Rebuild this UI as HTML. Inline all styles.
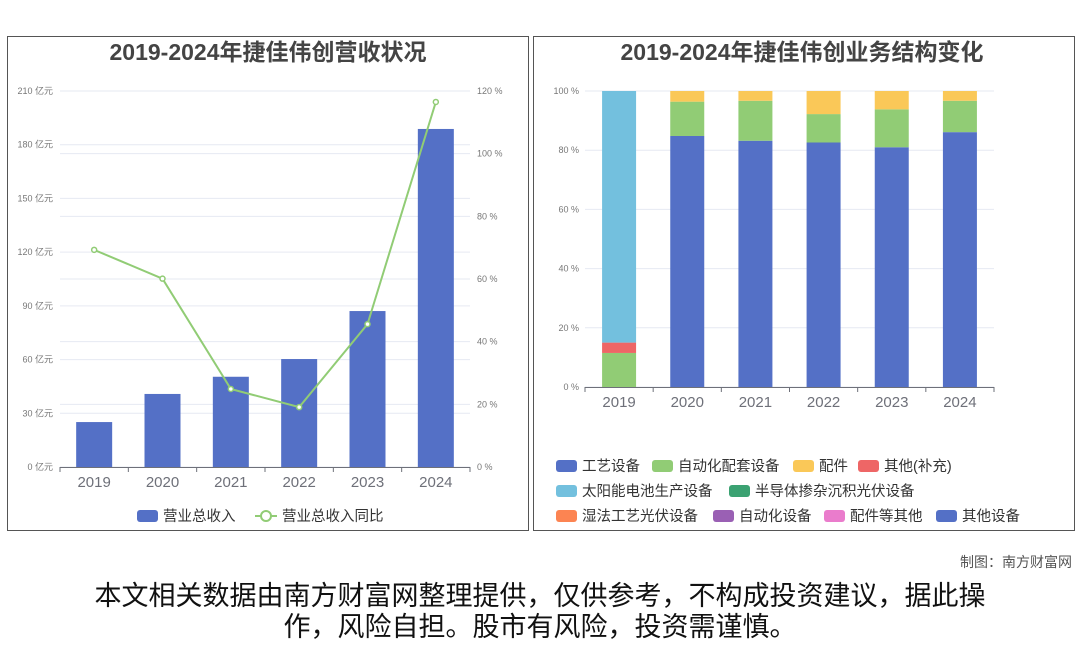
<!DOCTYPE html>
<html><head><meta charset="utf-8">
<style>
body{margin:0;width:1080px;height:646px;background:#fff;overflow:hidden;font-family:"Liberation Sans","Noto Sans CJK SC",sans-serif;}
svg text{font-family:"Liberation Sans","Noto Sans CJK SC",sans-serif;}
.foot{position:absolute;left:0;width:1080px;text-align:center;font-size:27px;line-height:31px;color:#111;font-family:"Liberation Sans","Noto Sans CJK SC",sans-serif;}
</style></head><body>
<svg id="chart" width="1080" height="646" style="position:absolute;left:0;top:0">
<rect x="7.5" y="36.5" width="521" height="494" fill="none" stroke="#555" stroke-width="1"/>
<rect x="533.5" y="36.5" width="541" height="494" fill="none" stroke="#555" stroke-width="1"/>
<text x="268" y="60" text-anchor="middle" font-size="23" font-weight="bold" fill="#444">2019-2024年捷佳伟创营收状况</text>
<text x="802" y="60" text-anchor="middle" font-size="23" font-weight="bold" fill="#444">2019-2024年捷佳伟创业务结构变化</text>
<g id="left"></g><g id="right"></g>
<text x="1072" y="567" text-anchor="end" font-size="14" fill="#555">制图：南方财富网</text>
</svg>
<div class="foot" style="top:581px">本文相关数据由南方财富网整理提供，仅供参考，不构成投资建议，据此操</div>
<div class="foot" style="top:612px">作，风险自担。股市有风险，投资需谨慎。</div>
<script>
const years=['2019','2020','2021','2022','2023','2024'];
const revenue=[25.1,40.8,50.4,60.3,87.1,188.8];
const revenueYoY=[69.3,60.1,24.9,19.1,45.6,116.5];
const leftTicks=[0,30,60,90,120,150,180,210];
const rightTicks=[0,20,40,60,80,100,120];
const segCraft=[0,84.8,83.2,82.6,81.0,86.1];
const segAuto=[11.5,11.6,13.5,9.6,12.8,10.6];
const segParts=[0,3.6,3.3,7.8,6.2,3.3];
const segOther=[3.5,0,0,0,0,0];
const segSolar=[85,0,0,0,0,0];
const pctTicks=[0,20,40,60,80,100];
const NS='http://www.w3.org/2000/svg';
function mk(p,t,a){const e=document.createElementNS(NS,t);for(const k in a)e.setAttribute(k,a[k]);p.appendChild(e);return e;}
// left chart
const L=document.getElementById('left');
const lx0=60,lx1=470,ly0=467,ly1=91;
const ly=v=>ly0-(v/210)*(ly0-ly1);
const ry=v=>ly0-(v/120)*(ly0-ly1);
const lbw=(lx1-lx0)/years.length;
const lcx=i=>lx0+lbw*(i+0.5);
leftTicks.forEach(t=>{
 const g=mk(L,'line',{x1:lx0,x2:lx1,y1:ly(t),y2:ly(t),stroke:'#e6e9f2'});
 
 const tx=mk(L,'text',{x:53,y:ly(t)+3,'text-anchor':'end','font-size':9,fill:'#777'});tx.textContent=t+' 亿元';
 
});
rightTicks.forEach(t=>{
 const g=mk(L,'line',{x1:lx0,x2:lx1,y1:ry(t),y2:ry(t),stroke:'#e6e9f2'});
 
 const tx=mk(L,'text',{x:477,y:ry(t)+3,'font-size':9,fill:'#777'});tx.textContent=t+' %';
 
});
revenue.forEach((v,i)=>{
 const r=mk(L,'rect',{x:lcx(i)-18,y:ly(v),width:36,height:ly0-ly(v),fill:'#5470c6'});
 
});
const ax=mk(L,'line',{x1:lx0,x2:lx1,y1:ly0+0.5,y2:ly0+0.5,stroke:'#6e7079'});

years.forEach((y,i)=>{
 mk(L,'line',{x1:lx0+lbw*i,x2:lx0+lbw*i,y1:ly0,y2:ly0+5,stroke:'#6e7079'});
 const tx=mk(L,'text',{x:lcx(i),y:487,'text-anchor':'middle','font-size':15,fill:'#6e7079'});tx.textContent=y;
 
});
mk(L,'line',{x1:lx1,x2:lx1,y1:ly0,y2:ly0+5,stroke:'#6e7079'});
const pl=mk(L,'polyline',{points:revenueYoY.map((v,i)=>lcx(i)+','+ry(v)).join(' '),fill:'none',stroke:'#91cc75','stroke-width':2});

revenueYoY.forEach((v,i)=>{
 const c=mk(L,'circle',{cx:lcx(i),cy:ry(v),r:2.5,fill:'#fff',stroke:'#91cc75','stroke-width':1.5});
 
});
let lg=mk(L,'rect',{x:137,y:510,width:21,height:12,rx:3,fill:'#5470c6'});

let lt=mk(L,'text',{x:163,y:521,'font-size':14.5,fill:'#333'});lt.textContent='营业总收入';

mk(L,'line',{x1:255,x2:277,y1:516,y2:516,stroke:'#91cc75','stroke-width':2});
mk(L,'circle',{cx:266,cy:516,r:5,fill:'#fff',stroke:'#91cc75','stroke-width':2});
lt=mk(L,'text',{x:282,y:521,'font-size':14.5,fill:'#333'});lt.textContent='营业总收入同比';

// right chart
const R=document.getElementById('right');
const rx0=585,rx1=994,rY0=387,rY1=91;
const py=v=>rY0-(v/100)*(rY0-rY1);
const rbw=(rx1-rx0)/years.length;
const rcx=i=>rx0+rbw*(i+0.5);
pctTicks.forEach(t=>{
 const g=mk(R,'line',{x1:rx0,x2:rx1,y1:py(t),y2:py(t),stroke:'#e6e9f2'});
 
 const tx=mk(R,'text',{x:579,y:py(t)+3,'text-anchor':'end','font-size':9,fill:'#777'});tx.textContent=t+' %';
 
});
const series=[[segCraft,'#5470c6'],[segAuto,'#91cc75'],[segOther,'#ee6666'],[segSolar,'#73c0de'],[segParts,'#fac858']];
years.forEach((y,i)=>{
 let base=0;
 series.forEach(s=>{const v=s[0][i];if(!v)return;
  const r=mk(R,'rect',{x:rcx(i)-17,y:py(base+v),width:34,height:py(base)-py(base+v),fill:s[1]});
  
  base+=v;});
});
const ax2=mk(R,'line',{x1:rx0,x2:rx1,y1:rY0+0.5,y2:rY0+0.5,stroke:'#6e7079'});

years.forEach((y,i)=>{
 mk(R,'line',{x1:rx0+rbw*i,x2:rx0+rbw*i,y1:rY0,y2:rY0+5,stroke:'#6e7079'});
 const tx=mk(R,'text',{x:rcx(i),y:407,'text-anchor':'middle','font-size':15,fill:'#6e7079'});tx.textContent=y;
 
});
mk(R,'line',{x1:rx1,x2:rx1,y1:rY0,y2:rY0+5,stroke:'#6e7079'});
const legs=[[556,466,'#5470c6','工艺设备'],[652,466,'#91cc75','自动化配套设备'],[793,466,'#fac858','配件'],[858,466,'#ee6666','其他(补充)'],
[556,491,'#73c0de','太阳能电池生产设备'],[729,491,'#3ba272','半导体掺杂沉积光伏设备'],
[556,516,'#fc8452','湿法工艺光伏设备'],[713,516,'#9a60b4','自动化设备'],[824,516,'#ea7ccc','配件等其他'],[936,516,'#5470c6','其他设备']];
legs.forEach(l=>{
 const r=mk(R,'rect',{x:l[0],y:l[1]-6,width:21,height:12,rx:3,fill:l[2]});
 
 const t=mk(R,'text',{x:l[0]+26,y:l[1]+5,'font-size':14.5,fill:'#333'});t.textContent=l[3];
 
});
</script>
</body></html>
